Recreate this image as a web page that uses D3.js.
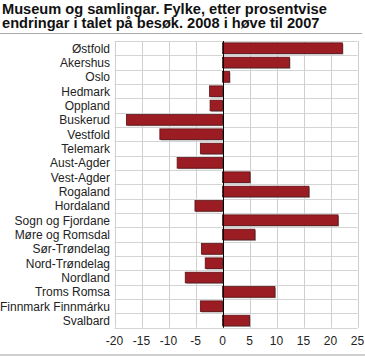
<!DOCTYPE html>
<html><head><meta charset="utf-8">
<script src="https://cdn.jsdelivr.net/npm/d3@7"></script>
<style>body{margin:0;background:#fff}svg{display:block}</style>
</head><body>
<script>
const titleLines = ["Museum og samlingar. Fylke, etter prosentvise", "endringar i talet på besøk. 2008 i høve til 2007"];
const categories = ["Østfold","Akershus","Oslo","Hedmark","Oppland","Buskerud","Vestfold","Telemark","Aust-Agder","Vest-Agder","Rogaland","Hordaland","Sogn og Fjordane","Møre og Romsdal","Sør-Trøndelag","Nord-Trøndelag","Nordland","Troms Romsa","Finnmark Finnmárku","Svalbard"];
const values = [22.2, 12.4, 1.3, -2.4, -2.3, -17.8, -11.6, -4.1, -8.4, 5.1, 16.0, -5.1, 21.4, 6.0, -3.9, -3.2, -6.9, 9.7, -4.1, 5.0];
const ticks = [-20, -15, -10, -5, 0, 5, 10, 15, 20, 25];

const W = 365, H = 356;
const svg = d3.select("body").append("svg").attr("width", W).attr("height", H);
const font = "'Liberation Sans', Arial, sans-serif";

const x = d3.scaleLinear().domain([-20, 25]).range([114.5, 357.5]);
const y = d3.scaleBand().domain(categories).range([41, 327.7]).paddingInner(0.26).paddingOuter(0.13);

// title
const title = svg.append("g").selectAll("text").data(titleLines).join("text")
  .attr("x", 2).attr("y", (d, i) => 13.5 + i * 14.5)
  .attr("font-family", font).attr("font-weight", "bold").attr("font-size", 14)
  .attr("fill", "#111").text(d => d);
const w0 = title.nodes()[0].getComputedTextLength();
const fs = Math.min(16, 14 * 325 / w0);
title.attr("font-size", fs);
svg.append("line").attr("x1", 0).attr("x2", 362).attr("y1", 33.5).attr("y2", 33.5)
  .attr("stroke", "#aaa").attr("stroke-width", 1);

// grid: vertical
svg.append("g").selectAll("line").data(ticks).join("line")
  .attr("x1", d => Math.round(x(d)) + 0.5).attr("x2", d => Math.round(x(d)) + 0.5)
  .attr("y1", 41).attr("y2", 327.7)
  .attr("stroke", "#cfcfcf").attr("stroke-width", 1);
// grid: horizontal (row boundaries)
const rowLines = categories.map(c => y(c) - y.step() * y.paddingInner() / 2);
svg.append("g").selectAll("line").data(rowLines.concat([327.7])).join("line")
  .attr("x1", x(-20)).attr("x2", x(25))
  .attr("y1", d => Math.round(d) + 0.5).attr("y2", d => Math.round(d) + 0.5)
  .attr("stroke", "#d4d4d4").attr("stroke-width", 1);

// bars shadow
svg.append("g").selectAll("rect").data(values).join("rect")
  .attr("x", d => Math.min(x(0), x(d)) + 1)
  .attr("y", (d, i) => y(categories[i]) + 1)
  .attr("width", d => Math.abs(x(d) - x(0)))
  .attr("height", y.bandwidth())
  .attr("fill", "#9a9a9a");
// bars
svg.append("g").selectAll("rect").data(values).join("rect")
  .attr("x", d => Math.min(x(0), x(d)))
  .attr("y", (d, i) => y(categories[i]))
  .attr("width", d => Math.abs(x(d) - x(0)))
  .attr("height", y.bandwidth())
  .attr("fill", "#9b1c22").attr("stroke", "#5e1115").attr("stroke-width", 0.8);

// zero line
svg.append("line").attr("x1", Math.round(x(0)) + 0.5).attr("x2", Math.round(x(0)) + 0.5)
  .attr("y1", 41).attr("y2", 327.7).attr("stroke", "#000").attr("stroke-width", 1);

// category labels
svg.append("g").selectAll("text").data(categories).join("text")
  .attr("x", 110).attr("y", d => y(d) + y.bandwidth() / 2 + 4.5)
  .attr("text-anchor", "end").attr("font-family", font).attr("font-size", 12)
  .attr("fill", "#222").text(d => d);

// x tick labels
svg.append("g").selectAll("text").data(ticks).join("text")
  .attr("x", d => x(d)).attr("y", 345)
  .attr("text-anchor", "middle").attr("font-family", font).attr("font-size", 12)
  .attr("fill", "#222").text(d => d);

// bottom rule
svg.append("line").attr("x1", 0).attr("x2", W).attr("y1", 355).attr("y2", 355)
  .attr("stroke", "#cfcfcf").attr("stroke-width", 2);
</script>
</body></html>
